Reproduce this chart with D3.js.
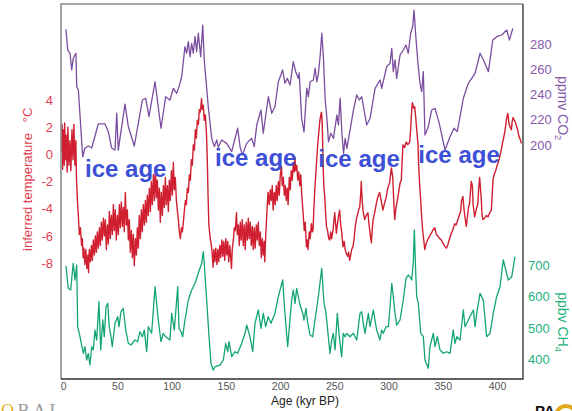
<!DOCTYPE html>
<html>
<head>
<meta charset="utf-8">
<script src="https://cdn.jsdelivr.net/npm/d3@7"></script>
<style>
  html, body { margin: 0; padding: 0; background: #fff; }
  svg { display: block; font-family: "Liberation Sans", Arial, Helvetica, sans-serif; }
</style>
</head>
<body>
<svg id="chart" width="572" height="411"></svg>
<script>
// Vostok ice core records: [age (kyr BP), value]

// Inferred temperature anomaly (°C)
const temperature = [
  [-1.5,0.3],[-1,2.2],[-0.5,-1.1],[0,1.8],[1,-0.8],[1.4,2.3],[2.3,-0.4],[2.8,1.4],[3.7,-1.3],[4.3,2.0],[5.3,-0.8],[6.2,1.0],[7.1,-1.2],[8.1,1.8],[9,-0.4],[9.9,2.2],[10.8,-0.8],[11.7,1.0],
  [12.3,-1.9],[13.3,-3.6],[14.0,-4.5],[14.9,-5.9],[15.9,-5.4],[17.0,-6.7],[17.7,-6.2],[18.4,-7.6],[19.1,-6.9],[20.0,-8.1],[20.9,-7.0],[21.8,-8.4],[22.8,-7.4],[23.4,-8.7],[24.1,-7.0],[25.1,-7.9],[26.0,-6.7],[26.9,-7.8],[27.8,-6.3],[28.8,-7.4],[29.7,-6.0],[30.6,-7.2],[31.5,-5.7],[32.4,-6.9],[33.4,-5.4],[34.3,-6.7],[35.2,-5.0],[36.1,-6.3],[37.1,-4.7],[38.0,-6.0],[38.9,-4.8],[39.8,-7.0],[40.8,-5.2],[41.7,-6.6],[42.6,-4.2],[43.5,-6.2],[44.4,-4.5],[45.4,-5.9],[46.3,-3.7],[47.2,-5.6],[48.1,-4.1],[49.0,-6.3],[50.0,-4.5],[50.9,-5.9],[51.8,-3.7],[52.7,-5.4],[53.6,-3.5],[54.6,-5.3],[55.5,-3.9],[56.4,-5.7],[57.3,-2.8],[58.3,-5.2],[59.2,-4.1],[60.1,-6.3],[61.0,-4.8],[61.9,-7.2],[62.9,-5.6],[63.8,-7.6],[64.7,-5.9],[65.6,-8.2],[66.6,-6.2],[67.5,-7.4],[68.4,-5.4],[69.3,-6.9],[70.2,-4.5],[71.2,-6.2],[72.1,-4.1],[73.0,-5.7],[73.9,-3.7],[74.9,-5.2],[75.8,-3.4],[76.7,-5.0],[77.6,-3.0],[78.5,-4.5],[79.5,-2.5],[80.4,-4.2],[81.3,-2.0],[82.2,-3.7],[83.2,-1.5],[84.1,-3.4],[85.0,-0.9],[85.9,-3.2],[86.8,-1.9],[87.8,-4.1],[88.7,-2.5],[89.6,-5.0],[90.5,-2.8],[91.5,-4.5],[92.4,-2.3],[93.3,-3.9],[94.2,-1.7],[95.1,-3.7],[96.1,-2.3],[97.0,-4.2],[97.9,-1.9],[98.8,-3.4],[99.8,-1.2],[100.7,-3.0],[101.6,-0.6],[102.5,-2.6],[103.4,-1.7],[104.4,-3.4],[105.3,-4.1],[106.2,-4.8],[107.1,-5.7],[108.1,-6.2],[109.0,-5.4],[109.9,-5.7],[110.8,-5.0],[111.7,-4.2],[112.7,-3.4],[113.6,-3.7],[114.5,-2.5],[115.4,-2.8],[116.4,-1.5],[117.3,-1.9],[118.2,-0.4],[119.1,-0.8],[120.0,0.7],[121.0,0.3],[121.9,1.8],[122.8,1.2],[123.7,2.5],[124.7,2.2],[125.6,3.3],[126.5,3.1],[127.6,4.1],[128.3,3.3],[129.2,3.6],[130.1,2.5],[131.1,2.9],[132.2,1.4],[132.9,-0.4],[133.6,-3.0],[134.3,-5.1],[135.2,-5.9],[136.8,-6.8],[137.5,-7.4],[138.2,-8.3],[138.9,-7.0],[139.8,-7.9],[140.7,-6.9],[141.7,-8.1],[142.6,-7.0],[143.5,-7.9],[144.4,-6.7],[145.3,-7.6],[146.3,-6.3],[147.2,-7.5],[148.1,-6.4],[149.0,-7.8],[150.0,-6.2],[150.9,-7.4],[151.8,-6.4],[152.7,-7.9],[153.7,-6.7],[155.2,-8.4],[155.9,-7.0],[156.9,-6.3],[157.8,-5.4],[158.7,-5.6],[159.8,-4.3],[160.5,-5.9],[161.5,-5.2],[162.4,-6.7],[163.3,-5.0],[164.2,-6.3],[165.1,-4.8],[166.1,-6.7],[167.0,-5.2],[167.9,-7.0],[168.8,-5.0],[169.8,-6.3],[170.7,-4.7],[171.6,-6.2],[172.5,-5.0],[173.5,-6.7],[174.4,-5.3],[175.3,-7.0],[176.2,-5.4],[177.1,-6.9],[178.1,-5.2],[179.0,-6.3],[179.9,-5.0],[180.8,-6.7],[181.8,-5.7],[182.7,-7.6],[183.6,-6.2],[184.5,-7.4],[185.4,-6.4],[185.9,-7.9],[186.8,-5.9],[187.7,-4.5],[188.9,-2.8],[190.0,-3.7],[191.0,-2.6],[191.9,-3.4],[192.8,-2.3],[193.6,-4.1],[194.7,-2.8],[195.6,-3.7],[196.5,-2.3],[197.4,-3.4],[198.4,-2.0],[199.3,-3.0],[200.2,-1.5],[201.3,-0.9],[202.0,-2.3],[203.0,-1.7],[203.9,-3.0],[204.8,-2.3],[205.7,-3.4],[206.6,-2.5],[207.4,-3.7],[208.5,-1.7],[209.4,-2.6],[210.3,-1.2],[211.3,-1.9],[212.2,-0.6],[213.1,-1.3],[213.6,-0.2],[214.5,-1.2],[215.4,-0.8],[216.3,-1.9],[217.3,-1.3],[218.2,-2.3],[219.1,-1.5],[220.0,-3.0],[221.2,-4.3],[222.3,-5.6],[223.2,-5.0],[224.3,-6.8],[225.1,-6.3],[225.8,-7.0],[226.9,-5.7],[227.8,-6.2],[228.9,-5.1],[229.7,-5.7],[230.4,-5.6],[231.1,-4.1],[232.0,-2.6],[232.9,-1.5],[233.8,-0.4],[234.7,0.7],[235.7,1.6],[236.6,2.4],[237.5,2.9],[238.2,3.1],[238.9,2.2],[239.6,-0.4],[240.3,-2.3],[241.2,-3.1],[242.1,-4.5],[242.8,-5.3],[244.0,-5.7],[244.9,-6.2],[245.8,-6.3],[246.7,-5.7],[247.6,-6.2],[248.8,-5.6],[249.5,-5.0],[250.4,-4.3],[251.3,-5.2],[251.9,-5.8],[253.1,-5.0],[254.0,-4.5],[254.9,-4.1],[255.9,-5.2],[256.8,-5.7],[258.0,-6.8],[259.1,-6.4],[260.0,-7.0],[261.1,-7.3],[262.3,-7.5],[263.2,-7.2],[264.2,-7.8],[265.1,-7.4],[266.0,-7.0],[267.2,-6.8],[268.3,-6.2],[269.2,-5.4],[270.3,-4.8],[271.5,-4.4],[272.4,-4.1],[273.4,-3.9],[274.3,-3.0],[274.9,-2.0],[275.7,-3.4],[276.6,-4.2],[278.0,-4.8],[279.4,-4.5],[281.0,-4.3],[282.1,-5.2],[283.1,-5.9],[284.2,-6.5],[284.9,-5.6],[285.8,-4.8],[287.2,-4.3],[288.6,-3.7],[289.9,-3.2],[291.8,-2.8],[293.2,-3.4],[294.9,-4.1],[296.0,-3.7],[298.0,-3.1],[299.2,-2.5],[301.0,-2.1],[302.6,-1.0],[303.9,-1.7],[304.8,-3.4],[305.7,-4.8],[306.6,-4.1],[308.7,-3.1],[310.7,-2.1],[311.8,-1.9],[312.6,-0.4],[313.3,0.7],[314.9,0.5],[316.3,0.9],[317.7,0.7],[319.5,0.9],[320.4,1.8],[321.4,3.3],[322.0,3.8],[323.2,3.4],[324.1,3.5],[325.1,2.7],[326.0,1.8],[327.2,0.7],[327.8,-0.8],[328.8,-2.4],[329.7,-3.4],[330.3,-4.3],[331.5,-5.6],[332.5,-6.3],[333.4,-7.0],[334.9,-6.5],[336.1,-6.3],[338.0,-6.0],[339.5,-5.8],[340.7,-5.6],[342.6,-5.4],[344.1,-5.9],[345.3,-6.0],[347.2,-6.2],[348.7,-6.3],[349.9,-6.5],[351.3,-6.7],[353.3,-6.9],[354.5,-6.7],[355.9,-6.3],[357.9,-5.8],[359.1,-5.6],[361.0,-5.1],[362.3,-5.2],[364.0,-4.8],[365.1,-4.5],[366.5,-4.2],[367.4,-3.4],[368.6,-3.1],[369.7,-4.1],[370.6,-4.7],[371.7,-5.3],[372.9,-4.5],[373.8,-3.9],[374.8,-3.6],[375.7,-2.6],[376.3,-2.0],[377.3,-2.3],[378.0,-3.7],[379.4,-4.6],[380.8,-4.1],[382.4,-3.6],[383.1,-2.6],[384.0,-1.7],[384.9,-2.6],[385.6,-3.4],[386.3,-4.5],[387.1,-4.8],[388.6,-4.7],[390.0,-4.5],[391.7,-4.6],[393.3,-4.3],[394.8,-4.1],[395.6,-3.0],[396.3,-1.9],[397.4,-1.5],[398.8,-1.2],[400.2,-0.8],[401.1,-0.6],[402.5,-0.2],[403.9,0.3],[405.3,0.9],[407.1,1.6],[408.0,2.1],[409.0,2.7],[410.1,3.0],[411.1,2.2],[412.2,2.0],[413.3,1.8],[414.0,2.4],[414.8,2.7],[415.8,2.5],[416.8,2.4],[417.9,2.1],[419.1,1.8],[420.3,1.3],[421.4,1.1],[422.5,0.8]
];

// Atmospheric CO2 (ppmv)
const co2 = [
  [2.6,291.8],[4.2,275.4],[6.3,272.8],[7.9,259.5],[9.3,268.8],[11.8,272.8],[12.5,246.3],[14.0,243.7],[18.0,190.7],[20.1,197.6],[23.2,199.2],[26.3,197.6],[32.4,216.7],[38.6,216.7],[41.6,210.6],[44.7,197.6],[47.8,196.0],[49.4,225.2],[50.8,196.0],[57.0,232.5],[60.1,214.5],[65.6,199.2],[73.0,235.7],[76.1,237.1],[79.1,222.5],[84.7,250.2],[90.2,213.3],[94.5,238.3],[98.5,235.7],[101.6,245.0],[104.7,241.0],[106.8,246.3],[109.3,254.2],[112.3,278.0],[113.9,272.8],[115.4,282.0],[117.0,270.1],[118.5,280.7],[120.0,272.8],[121.6,286.0],[123.1,274.0],[124.6,288.7],[126.8,270.1],[128.7,295.2],[130.1,267.5],[133.8,230.4],[137.0,205.3],[139.4,198.7],[141.6,204.0],[143.0,198.2],[146.2,204.0],[150.8,201.3],[155.4,194.7],[160.9,213.3],[163.1,198.7],[165.2,192.1],[169.2,201.3],[173.8,205.3],[176.2,198.7],[178.5,215.9],[182.4,227.8],[184.5,209.3],[189.2,238.3],[192.3,225.2],[195.3,230.4],[198.4,250.2],[202.4,259.5],[204.5,249.0],[206.7,252.9],[209.2,247.6],[212.2,266.1],[214.4,258.2],[216.8,252.9],[217.6,257.3],[219.9,221.2],[222.1,210.3],[224.6,245.2],[226.1,238.3],[227.7,250.2],[230.7,251.6],[232.3,260.9],[233.9,250.2],[235.4,256.9],[236.9,270.1],[238.5,288.7],[240.0,268.8],[241.6,235.7],[243.2,221.2],[244.6,202.6],[246.8,209.3],[249.2,205.3],[252.4,223.8],[253.8,215.9],[255.4,237.1],[257.0,209.3],[258.5,193.4],[260.0,205.3],[261.6,197.4],[264.0,209.3],[267.7,227.8],[270.7,239.7],[273.1,235.7],[275.3,238.3],[279.9,215.9],[283.0,221.2],[287.6,245.0],[292.2,251.6],[293.7,245.0],[298.3,262.1],[301.4,264.8],[303.0,276.7],[304.4,258.2],[306.0,267.5],[307.5,252.9],[310.6,271.4],[313.6,275.4],[316.1,279.4],[318.2,272.8],[320.4,288.7],[322.3,293.9],[323.5,307.1],[325.3,284.7],[326.9,267.5],[329.0,249.0],[330.6,242.3],[332.1,258.2],[333.6,207.9],[336.7,214.5],[339.8,227.8],[342.9,229.1],[346.8,217.2],[352.1,196.0],[356.7,206.6],[360.4,213.3],[363.4,210.6],[369.0,237.1],[373.6,249.0],[376.7,252.9],[379.8,256.9],[384.4,272.8],[387.5,267.5],[392.1,258.2],[396.1,283.3],[399.8,286.0],[404.4,287.3],[409.0,291.3],[411.5,283.3],[414.6,292.6]
];

// Atmospheric CH4 (ppbv)
const ch4 = [
  [2.6,697.2],[4.7,626.1],[6.9,620.7],[9.3,705.8],[10.9,652.6],[12.5,700.3],[13.4,503.8],[15.5,472.0],[18.6,419.1],[20.1,440.1],[21.7,397.8],[23.2,419.1],[24.7,381.8],[26.3,440.1],[27.8,429.6],[29.3,493.3],[30.9,461.5],[33.0,583.5],[34.6,429.6],[36.5,525.2],[37.9,472.0],[39.5,567.5],[41.1,578.4],[42.5,503.8],[44.1,472.0],[45.3,440.1],[47.8,514.7],[50.3,535.7],[51.5,503.8],[53.3,551.6],[55.4,562.4],[57.7,493.3],[60.1,451.0],[62.5,445.5],[66.2,461.5],[68.7,456.1],[70.8,487.9],[73.0,472.0],[74.8,493.3],[77.0,424.2],[78.5,503.8],[81.6,482.8],[84.7,631.2],[87.7,525.2],[90.2,456.1],[92.3,482.8],[94.5,472.0],[98.5,461.5],[100.1,546.5],[102.5,493.3],[105.6,631.2],[106.8,498.7],[108.7,487.9],[110.2,472.0],[112.3,525.2],[113.9,557.0],[115.4,588.9],[118.5,620.7],[121.6,642.1],[124.6,673.9],[127.7,705.8],[129.2,742.7],[130.1,705.8],[132.3,588.9],[134.5,472.0],[136.3,387.3],[138.4,365.9],[140.0,376.4],[144.6,381.8],[147.7,397.8],[149.9,451.0],[151.7,424.2],[152.9,456.1],[155.4,408.3],[158.4,424.2],[160.9,419.1],[164.6,451.0],[167.7,482.8],[169.2,509.2],[172.3,472.0],[174.8,424.2],[176.9,514.7],[179.9,557.0],[182.4,498.7],[184.5,546.5],[186.7,503.8],[189.1,535.7],[191.6,514.7],[195.3,546.5],[198.4,599.4],[202.4,652.6],[204.5,546.5],[207.0,440.1],[209.1,525.2],[210.7,588.9],[212.2,620.7],[213.8,578.4],[215.3,626.1],[218.4,572.9],[220.9,546.5],[222.1,525.2],[223.9,562.4],[225.1,525.2],[227.6,477.4],[230.1,472.0],[232.2,525.2],[235.3,599.4],[238.4,689.8],[240.5,578.4],[242.4,546.5],[244.5,472.0],[246.0,419.1],[247.6,461.5],[249.1,482.8],[250.7,429.6],[252.8,546.5],[254.6,472.0],[256.8,408.3],[258.3,482.8],[259.9,472.0],[261.4,482.8],[264.5,472.0],[267.5,482.8],[270.7,461.5],[273.7,546.5],[275.3,551.6],[276.7,514.7],[278.3,482.8],[281.4,546.5],[282.9,503.8],[286.0,557.0],[287.5,525.2],[289.1,493.3],[292.1,461.5],[293.7,493.3],[295.2,482.8],[297.7,503.8],[299.8,503.8],[301.4,567.5],[303.0,642.1],[304.4,599.4],[306.0,546.5],[307.5,509.2],[310.6,525.2],[313.6,588.9],[316.1,658.0],[318.2,668.5],[319.8,663.1],[321.4,652.6],[322.8,705.8],[323.8,811.8],[325.1,673.9],[326.0,599.4],[327.5,578.4],[329.7,482.8],[332.1,472.0],[333.6,397.8],[336.7,371.3],[338.2,440.1],[341.3,482.8],[342.9,440.1],[345.0,472.0],[347.5,429.6],[350.5,419.1],[353.6,424.2],[356.7,419.1],[359.7,493.3],[361.3,451.0],[362.9,472.0],[365.9,461.5],[369.0,557.0],[370.5,503.8],[373.6,525.2],[376.7,546.5],[378.2,557.0],[379.8,503.8],[381.3,546.5],[384.4,610.2],[387.4,588.9],[390.5,472.0],[393.6,482.8],[396.6,546.5],[399.7,599.4],[402.8,631.2],[405.8,716.3],[407.4,694.9],[410.4,652.6],[413.6,663.1],[416.6,726.8]
];

// Axis ticks
const ageTicks = [0, 50, 100, 150, 200, 250, 300, 350, 400];
const tempTicks = [4, 2, 0, -2, -4, -6, -8];
const co2Ticks = [200, 220, 240, 260, 280];
const ch4Ticks = [400, 500, 600, 700];

// Glacial period annotations, anchored at [age, temperature]
const iceAgeLabels = [[20.2, -1.7], [140.0, -0.84], [235.3, -0.91], [327.5, -0.66]];

const plot = { left: 61, right: 523, top: 4, bottom: 379 };
const colors = {
  temp: "#cf1f31", tempText: "#e23d4f",
  co2: "#7b4da0", co2Text: "#8759ab",
  ch4: "#12a572", ch4Text: "#22b07c",
  ice: "#3c4fd6"
};

const svg = d3.select("#chart");

const x = d3.scaleLinear().domain([-2, 424]).range([plot.left, plot.right]);
const yTemp = d3.scaleLinear().domain([-16.52, 11.05]).range([plot.bottom, plot.top]);
const yCo2 = d3.scaleLinear().domain([14.3, 311.9]).range([plot.bottom, plot.top]);
const yCh4 = d3.scaleLinear().domain([337.3, 1531.6]).range([plot.bottom, plot.top]);

svg.append("defs").append("clipPath").attr("id", "plotClip")
  .append("rect")
  .attr("x", plot.left).attr("y", plot.top)
  .attr("width", plot.right - plot.left).attr("height", plot.bottom - plot.top);

const lines = svg.append("g").attr("clip-path", "url(#plotClip)");

function drawSeries(data, yScale, color, width) {
  lines.append("path")
    .datum(data)
    .attr("fill", "none")
    .attr("stroke", color)
    .attr("stroke-width", width)
    .attr("stroke-linejoin", "round")
    .attr("d", d3.line().x(d => x(d[0])).y(d => yScale(d[1])));
}

drawSeries(co2, yCo2, colors.co2, 1.3);
drawSeries(temperature, yTemp, colors.temp, 1.4);
drawSeries(ch4, yCh4, colors.ch4, 1.3);

// Plot frame
const frame = svg.append("g").attr("fill", "none");
frame.append("path")
  .attr("d", `M${plot.left},${plot.bottom}V${plot.top}H${plot.right}`)
  .attr("stroke", "#8c8c8c").attr("stroke-width", 1.6);
frame.append("path")
  .attr("d", `M${plot.right},${plot.top}V${plot.bottom}H${plot.left}`)
  .attr("stroke", "#2e2e2e").attr("stroke-width", 1.3);

function styleAxis(g, color, size) {
  g.attr("font-family", null).attr("font-size", null);
  g.select(".domain").remove();
  g.selectAll("text").attr("fill", color).style("font-size", size);
}

// Age axis
svg.append("g")
  .attr("transform", `translate(0,${plot.bottom})`)
  .call(d3.axisBottom(x).tickValues(ageTicks).tickSize(0).tickPadding(4).tickFormat(d => String(d)))
  .call(g => styleAxis(g, "#555", "10.5px"));

// Temperature axis
svg.append("g")
  .attr("transform", `translate(${plot.left},0)`)
  .call(d3.axisLeft(yTemp).tickValues(tempTicks).tickSize(0).tickPadding(8).tickFormat(d => String(d)))
  .call(g => styleAxis(g, colors.tempText, "13px"));

// CO2 axis
svg.append("g")
  .attr("transform", `translate(${plot.right},0)`)
  .call(d3.axisRight(yCo2).tickValues(co2Ticks).tickSize(0).tickPadding(7).tickFormat(d => String(d)))
  .call(g => styleAxis(g, colors.co2Text, "13px"));

// CH4 axis
svg.append("g")
  .attr("transform", `translate(${plot.right},0)`)
  .call(d3.axisRight(yCh4).tickValues(ch4Ticks).tickSize(0).tickPadding(5).tickFormat(d => String(d)))
  .call(g => styleAxis(g, colors.ch4Text, "13px"));

// Axis titles
svg.append("text")
  .attr("x", 305).attr("y", 405)
  .attr("text-anchor", "middle")
  .attr("fill", "#222").style("font-size", "12px")
  .text("Age (kyr BP)");

svg.append("text")
  .attr("transform", "translate(31.5,192) rotate(-90)")
  .attr("text-anchor", "middle")
  .attr("fill", colors.tempText).style("font-size", "13px")
  .text("inferred temperature");

svg.append("text")
  .attr("transform", "translate(31.5,115) rotate(-90)")
  .attr("text-anchor", "middle")
  .attr("fill", colors.tempText).style("font-size", "13px")
  .text("°C");

function gasTitle(cx, cy, main, sub, color) {
  const t = svg.append("text")
    .attr("transform", `translate(${cx},${cy}) rotate(90)`)
    .attr("text-anchor", "middle")
    .attr("fill", color).style("font-size", "14px");
  t.append("tspan").text(main);
  t.append("tspan").attr("dy", 3).style("font-size", "9px").text(sub);
}
gasTitle(557.5, 108, "ppmv CO", "2", colors.co2Text);
gasTitle(557.5, 322, "ppbv CH", "4", colors.ch4Text);

// Glacial period labels
svg.append("g").selectAll("text")
  .data(iceAgeLabels)
  .join("text")
  .attr("x", d => x(d[0]))
  .attr("y", d => yTemp(d[1]))
  .attr("fill", colors.ice)
  .style("font-size", "24px")
  .style("font-weight", "bold")
  .text("ice age");

// Logos along the bottom edge
const logoL = svg.append("text")
  .attr("x", 1).attr("y", 417)
  .style("font-family", "'Liberation Serif', 'DejaVu Serif', serif")
  .style("font-size", "18px")
  .style("letter-spacing", "3.5px");
logoL.append("tspan").attr("fill", "#e3b22a").text("O");
logoL.append("tspan").attr("fill", "#9a9a9a").text("BAL");

svg.append("text")
  .attr("x", 535).attr("y", 416)
  .attr("fill", "#111")
  .style("font-size", "15px").style("font-weight", "bold")
  .text("PA");
svg.append("circle")
  .attr("cx", 566).attr("cy", 416).attr("r", 10)
  .attr("fill", "none").attr("stroke", "#e0a91c").attr("stroke-width", 4);
</script>
</body>
</html>
